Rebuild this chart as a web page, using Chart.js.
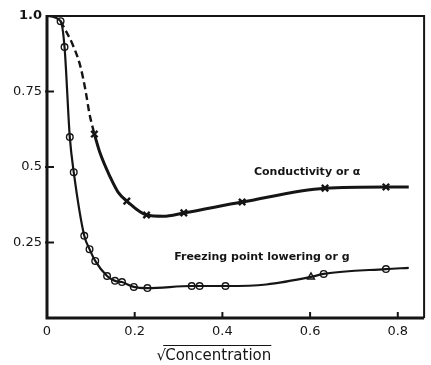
<!DOCTYPE html>
<html>
<head>
<meta charset="utf-8">
<script src="https://cdn.jsdelivr.net/npm/chart.js@4"></script>
<style>
  html, body { margin: 0; padding: 0; background: #fff; }
  #wrap { width: 431px; height: 365px; }
</style>
</head>
<body>
<div id="wrap"><canvas id="chart"></canvas></div>
<script>
// freezing point lowering (g): measured points
const gX = [0.031, 0.040, 0.052, 0.061, 0.085, 0.097, 0.110, 0.137, 0.155, 0.171, 0.198, 0.229, 0.330, 0.348, 0.407, 0.631, 0.773];
const gY = [0.983, 0.897, 0.599, 0.483, 0.272, 0.228, 0.189, 0.139, 0.123, 0.119, 0.103, 0.099, 0.106, 0.106, 0.106, 0.146, 0.162];
const gTriX = [0.602];
const gTriY = [0.136];
// smooth curve drawn through them
const gCurveX = [0, 0.031, 0.040, 0.052, 0.061, 0.085, 0.097, 0.110, 0.137, 0.155, 0.171, 0.198, 0.229, 0.330, 0.348, 0.407, 0.500, 0.602, 0.631, 0.773, 0.825];
const gCurveY = [1.0, 0.983, 0.897, 0.599, 0.483, 0.272, 0.228, 0.189, 0.139, 0.123, 0.119, 0.103, 0.099, 0.106, 0.106, 0.106, 0.111, 0.136, 0.146, 0.162, 0.166];

// conductivity (alpha)
const aX = [0.108, 0.182, 0.227, 0.312, 0.445, 0.634, 0.773];
const aY = [0.609, 0.387, 0.341, 0.348, 0.384, 0.430, 0.434];
const aCurveX = [0.108, 0.121, 0.144, 0.162, 0.182, 0.227, 0.265, 0.312, 0.445, 0.634, 0.773, 0.825];
const aCurveY = [0.609, 0.546, 0.467, 0.417, 0.387, 0.341, 0.337, 0.348, 0.384, 0.430, 0.434, 0.434];
// extrapolated part, dashed
const aDashX = [0.031, 0.038, 0.058, 0.076, 0.088, 0.097, 0.108];
const aDashY = [0.983, 0.964, 0.907, 0.834, 0.752, 0.675, 0.609];

const xTicks = [0, 0.2, 0.4, 0.6, 0.8];
const xTickLabels = ['0', '0.2', '0.4', '0.6', '0.8'];
const yTicks = [0, 0.25, 0.5, 0.75, 1.0];
const yTickLabels = ['', '0.25', '0.5', '0.75', '1.0'];

const pts = (xs, ys) => xs.map((x, i) => ({ x: x, y: ys[i] }));
const ink = '#151515';

// frame, inward ticks, curve labels and the axis title
const decor = {
  id: 'decor',
  afterDraw(chart) {
    const { ctx, chartArea: a, scales: { x, y } } = chart;
    ctx.save();
    ctx.strokeStyle = ink;
    ctx.fillStyle = ink;
    ctx.lineCap = 'butt';

    ctx.lineWidth = 2;
    ctx.beginPath();
    ctx.moveTo(a.left, a.top);
    ctx.lineTo(a.right, a.top);
    ctx.lineTo(a.right, a.bottom);
    ctx.stroke();
    ctx.lineWidth = 3;
    ctx.beginPath();
    ctx.moveTo(a.left, a.top - 1);
    ctx.lineTo(a.left, a.bottom);
    ctx.lineTo(a.right, a.bottom);
    ctx.stroke();

    ctx.lineWidth = 2;
    xTicks.forEach(v => {
      if (v === 0) return;
      const px = x.getPixelForValue(v);
      ctx.beginPath();
      ctx.moveTo(px, a.bottom);
      ctx.lineTo(px, a.bottom - 6);
      ctx.stroke();
    });
    yTicks.forEach(v => {
      if (v === 0 || v === 1) return;
      const py = y.getPixelForValue(v);
      ctx.beginPath();
      ctx.moveTo(a.left - 2, py);
      ctx.lineTo(a.left + 7, py);
      ctx.stroke();
    });

    ctx.font = 'bold 11px "DejaVu Sans"';
    ctx.textBaseline = 'middle';
    ctx.textAlign = 'left';
    ctx.fillText('Conductivity or \u03B1', x.getPixelForValue(0.472), y.getPixelForValue(0.483));
    ctx.fillText('Freezing point lowering or g', x.getPixelForValue(0.290), y.getPixelForValue(0.202));

    // sqrt(Concentration)
    ctx.font = '15px "DejaVu Sans"';
    const tx = x.getPixelForValue(0.25);
    const ty = 356;
    ctx.fillText('\u221A', tx, ty);
    const rw = ctx.measureText('\u221A').width;
    ctx.fillText('Concentration', tx + rw - 1, ty);
    const cw = ctx.measureText('Concentration').width;
    ctx.lineWidth = 1.2;
    ctx.beginPath();
    ctx.moveTo(tx + rw - 3, 345.5);
    ctx.lineTo(tx + rw + cw - 1, 345.5);
    ctx.stroke();
    ctx.restore();
  }
};

new Chart(document.getElementById('chart'), {
  type: 'scatter',
  data: {
    datasets: [
      {
        data: pts(gCurveX, gCurveY),
        showLine: true,
        borderColor: ink,
        borderWidth: 2.2,
        pointRadius: 0,
        cubicInterpolationMode: 'monotone',
        clip: false
      },
      {
        data: pts(aCurveX, aCurveY),
        showLine: true,
        borderColor: ink,
        borderWidth: 3,
        pointRadius: 0,
        cubicInterpolationMode: 'monotone'
      },
      {
        data: pts(aDashX, aDashY),
        showLine: true,
        borderColor: ink,
        borderWidth: 2.4,
        borderDash: [7, 4],
        pointRadius: 0,
        cubicInterpolationMode: 'monotone'
      },
      {
        data: pts(gX, gY),
        pointStyle: 'circle',
        pointRadius: 3.3,
        borderWidth: 1.4,
        borderColor: ink,
        backgroundColor: '#fff'
      },
      {
        data: pts(gTriX, gTriY),
        pointStyle: 'triangle',
        pointRadius: 4,
        borderWidth: 1.4,
        borderColor: ink,
        backgroundColor: '#fff'
      },
      {
        data: pts(aX, aY),
        pointStyle: 'crossRot',
        pointRadius: 4.5,
        borderWidth: 2.4,
        borderColor: ink
      }
    ]
  },
  options: {
    responsive: true,
    maintainAspectRatio: false,
    animation: false,
    events: [],
    layout: { padding: { top: 16, right: 3, left: 0, bottom: 0 } },
    plugins: { legend: { display: false }, tooltip: { enabled: false } },
    scales: {
      x: {
        type: 'linear',
        min: 0,
        max: 0.86,
        afterFit: s => { s.height = 47; },
        afterBuildTicks: s => { s.ticks = xTicks.map(v => ({ value: v })); },
        grid: { display: false, drawTicks: false },
        border: { display: false },
        ticks: {
          padding: 6,
          color: ink,
          font: { family: 'DejaVu Sans', size: 13 },
          maxRotation: 0,
          callback: v => xTickLabels[xTicks.indexOf(v)] ?? ''
        }
      },
      y: {
        type: 'linear',
        min: 0,
        max: 1,
        afterFit: s => { s.width = 47; },
        afterBuildTicks: s => { s.ticks = yTicks.map(v => ({ value: v })); },
        grid: { display: false, drawTicks: false },
        border: { display: false },
        ticks: {
          padding: 5,
          color: ink,
          font: c => ({ family: 'DejaVu Sans', size: 13, weight: c.tick && c.tick.value === 1 ? 'bold' : 'normal' }),
          callback: v => yTickLabels[yTicks.indexOf(v)] ?? ''
        }
      }
    }
  },
  plugins: [decor]
});
</script>
</body>
</html>
